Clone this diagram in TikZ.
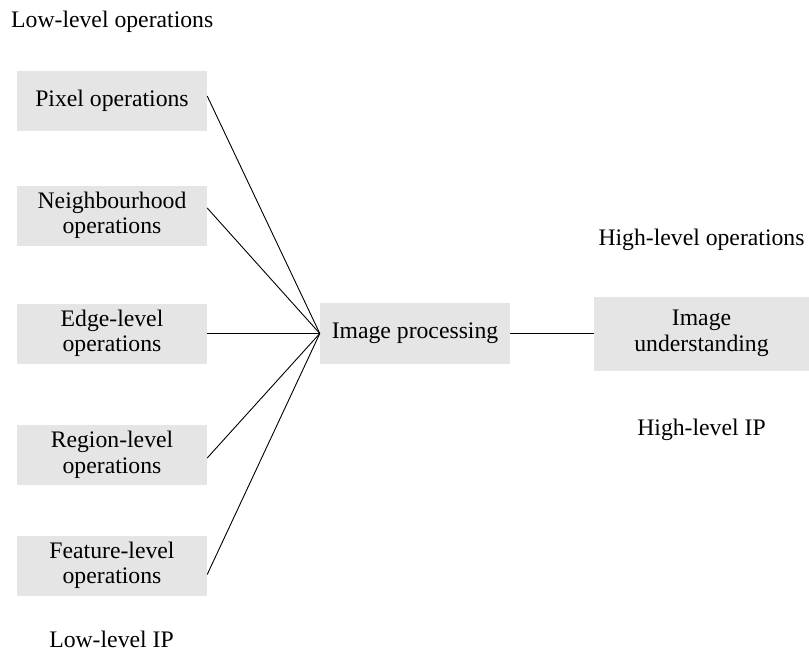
\documentclass[tikz,border=0pt]{standalone}
\usepackage{fontspec}
\setmainfont{Liberation Serif}
\begin{document}
\begin{tikzpicture}[x=1pt,y=-1pt,
  every node/.style={font=\fontsize{23.7}{25.5}\selectfont, inner sep=0pt},
  opbox/.style={fill=black!10, align=center, minimum width=190pt, minimum height=60pt},
  link/.style={draw=black, line width=0.9pt}
]
\useasboundingbox (0,0) rectangle (809,651);

% low-level operation boxes
\node[opbox] (pix) at (112,101)   {Pixel operations};
\node[opbox] (nbh) at (112,215.5) {Neighbourhood\\operations};
\node[opbox] (edg) at (112,333.5) {Edge-level\\operations};
\node[opbox] (reg) at (112,455)   {Region-level\\operations};
\node[opbox] (fea) at (112,565.5) {Feature-level\\operations};

% central and high-level boxes
\node[opbox, minimum height=61pt] (imp) at (415,333.5) {Image processing};
\node[opbox, minimum width=215pt, minimum height=74pt] (und) at (701.5,333.5) {Image\\understanding};

% captions
\node[anchor=base west] (lowops) at (11,27)    {Low-level operations};
\node[anchor=base]      (lowip)  at (111.5,647) {Low-level IP};
\node[anchor=base]      (highops) at (701.5,245) {High-level operations};
\node[anchor=base]      (highip)  at (701.5,435) {High-level IP};

% connectors
\draw[link] ([yshift=5pt]pix.east)    -- (imp.west);
\draw[link] ([yshift=7.5pt]nbh.east)  -- (imp.west);
\draw[link] (edg.east)                -- (imp.west);
\draw[link] ([yshift=-3pt]reg.east)   -- (imp.west);
\draw[link] ([yshift=-9pt]fea.east)   -- (imp.west);
\draw[link] (imp.east) -- (und.west);
\end{tikzpicture}
\end{document}
